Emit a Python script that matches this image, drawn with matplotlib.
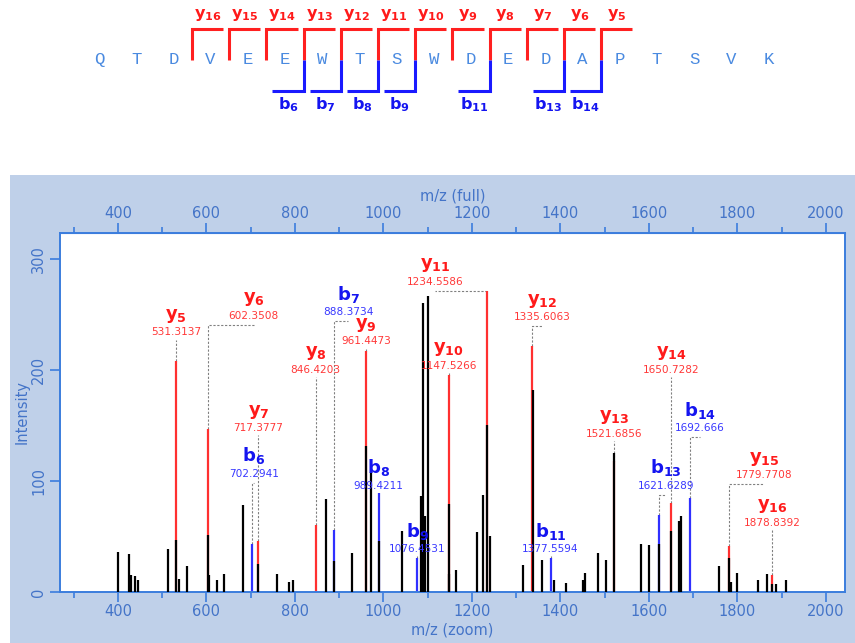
import numpy as np
import matplotlib.pyplot as plt
from matplotlib.patches import Rectangle
from matplotlib.ticker import MultipleLocator, FixedLocator

# peptide and the fragment ions that were matched
sequence = 'QTDVEEWTSWDEDAPTSVK'
y_ions = [16, 15, 14, 13, 12, 11, 10, 9, 8, 7, 6, 5]
b_ions = [6, 7, 8, 9, 11, 13, 14]

# unassigned peaks
peak_mz = [400, 425, 428.6, 439, 446, 512, 539, 556, 605, 623, 639.5, 682.5,
           760, 786, 796, 870, 928, 971, 1041, 1085, 1090, 1094, 1100, 1148,
           1164, 1212, 1224, 1241, 1316, 1338, 1359, 1385, 1412, 1452, 1455,
           1485.5, 1502, 1521.7, 1582, 1599, 1623, 1668.5, 1672, 1759, 1785,
           1800, 1846, 1866, 1886, 1910]
peak_int = [36, 34, 15, 14, 11, 39, 12, 23, 15, 11, 16, 78,
            16, 9, 11, 84, 35, 108, 55, 86, 260, 68, 266, 16,
            20, 54, 87, 50, 24, 182, 29, 11, 8, 11, 17,
            35, 29, 125, 43, 42, 43, 64, 68.5, 23, 9,
            17, 11, 16, 7, 11]

# assigned fragment peaks
ion_names = ['y5', 'y6', 'b6', 'y7', 'y8', 'b7', 'y9', 'b8', 'b9', 'y10',
             'y11', 'y12', 'b11', 'y13', 'b13', 'y14', 'b14', 'y15', 'y16']
ion_mz = [531.3137, 602.3508, 702.2941, 717.3777, 846.4203, 888.3734,
          961.4473, 989.4211, 1076.4531, 1147.5266, 1234.5586, 1335.6063,
          1377.5594, 1521.6856, 1621.6289, 1650.7282, 1692.666, 1779.7708,
          1878.8392]
ion_int = [207.5, 147, 43, 46, 60, 56, 216.5, 89, 31, 195.5,
           271, 221, 31, 118, 69, 80, 85, 41, 15]
# intensity of the raw peak underneath each assignment
raw_int = [47, 51, 0, 25, 0, 28, 131, 46, 0, 79,
           150, 0, 0, 0, 0, 55, 0, 31, 7]

# where each annotation sits (m/z of text centre, intensity of text bottom)
label_at = {
    'y5': (531.3, 229), 'y6': (707, 244), 'b6': (707, 102), 'y7': (717.4, 143),
    'y8': (846.4, 195.5), 'b7': (920, 247), 'y9': (961.4, 221),
    'b8': (989.4, 91), 'b9': (1076.5, 34), 'y10': (1147.5, 199),
    'y11': (1116, 274.5), 'y12': (1358, 242.5), 'b11': (1377.6, 34),
    'y13': (1521.7, 138), 'b13': (1638, 91), 'y14': (1650.7, 195.5),
    'b14': (1715, 143), 'y15': (1860, 100.5), 'y16': (1878.8, 58),
}
mz_ticks = [400, 600, 800, 1000, 1200, 1400, 1600, 1800, 2000]

RED = '#ff1a1a'
BLUE = '#1414f0'
AXIS = '#3b7ddd'
TICK = '#4474c8'
SEQ = '#4a8ae0'


def ion_text(name):
    return r'$\mathbf{%s}_{\mathbf{%s}}$' % (name[0], name[1:])


fig = plt.figure(figsize=(8.55, 6.43), dpi=100)
fig.patches.append(Rectangle((10 / 855, 0), 1, 468 / 643, transform=fig.transFigure,
                             facecolor='#bfd0e9', edgecolor='none', zorder=-5))

# ---- sequence coverage map ----
sq = fig.add_axes([0, 468 / 643, 1, 175 / 643])
sq.set_xlim(-2.661, 20.323)
sq.set_ylim(-3.71, 1.935)
sq.axis('off')
for i, aa in enumerate(sequence):
    sq.text(i, 0, aa, family='Liberation Mono', fontsize=12.5, color=SEQ,
            ha='center', va='center')
for n in y_ions:
    bx = len(sequence) - n - 0.5
    sq.plot([bx, bx, bx + 0.84], [0, 1, 1], color='#ff2020', lw=2.2,
            solid_joinstyle='miter', solid_capstyle='butt')
    sq.text(bx + 0.42, 1.45, ion_text('y%d' % n), color=RED, fontsize=11.5,
            ha='center', va='center')
for n in b_ions:
    bx = n - 0.5
    sq.plot([bx, bx, bx - 0.84], [0, -1, -1], color='#1a1aff', lw=2.2,
            solid_joinstyle='miter', solid_capstyle='butt')
    sq.text(bx - 0.42, -1.45, ion_text('b%d' % n), color=BLUE, fontsize=11.5,
            ha='center', va='center')

# ---- spectrum ----
ax = fig.add_axes([60 / 855, 51 / 643, 785 / 855, 359 / 643])
ax.set_facecolor('white')
ax.set_xlim(269, 2043)
ax.set_ylim(0, 323)

for name, mz, it in zip(ion_names, ion_mz, ion_int):
    c = '#ff3030' if name[0] == 'y' else '#3030ff'
    ax.vlines(mz, 0, it, color=c, lw=1.6, zorder=2)
ax.vlines(peak_mz, 0, peak_int, color='black', lw=1.6, zorder=3)
raw = [(m, r) for m, r in zip(ion_mz, raw_int) if r > 0]
ax.vlines([m for m, r in raw], 0, [r for m, r in raw], color='black', lw=1.6, zorder=3)

for name, mz, it in zip(ion_names, ion_mz, ion_int):
    lx, ly = label_at[name]
    name_c = RED if name[0] == 'y' else BLUE
    num_c = '#ff3838' if name[0] == 'y' else '#3838ff'
    dash = dict(color='#808080', lw=0.8, linestyle=(0, (2, 1.5)), zorder=1)
    if abs(lx - mz) > 3:
        ey = ly - 3.5
        ax.plot([mz, mz, lx], [max(it, 0), ey, ey], **dash)
    elif ly - 2 > it:
        ax.plot([mz, mz], [it, ly - 2], **dash)
    ax.text(lx, ly, ('%.4f' % mz).rstrip('0'), color=num_c, fontsize=7.6,
            ha='center', va='bottom', zorder=4)
    ax.annotate(ion_text(name), (lx, ly), xytext=(0, 9), textcoords='offset points',
                color=name_c, fontsize=13, ha='center', va='bottom', zorder=4)

for s in ax.spines.values():
    s.set_color(AXIS)
    s.set_linewidth(1.4)
ax.xaxis.set_major_locator(FixedLocator(mz_ticks))
ax.xaxis.set_minor_locator(MultipleLocator(100))
ax.set_yticks([0, 100, 200, 300])
ax.tick_params(axis='both', which='major', colors=AXIS, labelcolor=TICK,
               labelsize=10.5, length=7, width=1.2, pad=1.5)
ax.tick_params(axis='y', which='major', pad=3)
ax.tick_params(axis='x', which='minor', colors=AXIS, length=4, width=1.2)
for t in ax.get_yticklabels():
    t.set_rotation(90)
    t.set_va('center')
ax.set_xlabel('m/z (zoom)', color=TICK, fontsize=10.5, labelpad=3)
ax.set_ylabel('Intensity', color=TICK, fontsize=10.5, labelpad=1)

top = ax.secondary_xaxis('top')
top.xaxis.set_major_locator(FixedLocator(mz_ticks))
top.xaxis.set_minor_locator(MultipleLocator(100))
top.tick_params(axis='x', which='major', colors=AXIS, labelcolor=TICK,
                labelsize=10.5, length=7, width=1.2, pad=1.5)
top.tick_params(axis='x', which='minor', colors=AXIS, length=4, width=1.2)
top.spines['top'].set_color(AXIS)
top.set_xlabel('m/z (full)', color=TICK, fontsize=10.5, labelpad=4)

fig.savefig('out.png', dpi=100)
